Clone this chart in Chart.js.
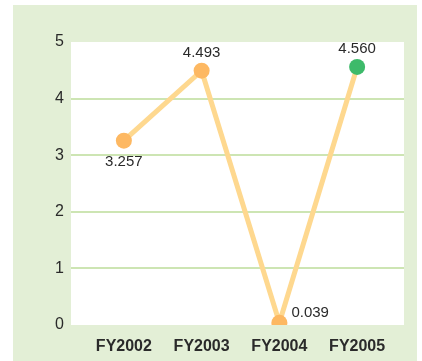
<!DOCTYPE html>
<html>
<head>
<meta charset="utf-8">
<script src="https://cdn.jsdelivr.net/npm/chart.js@4/dist/chart.umd.min.js"></script>
<style>
    html, body { margin: 0; padding: 0; background: #fff; }
    #wrap { width: 422px; height: 361px; }
</style>
</head>
<body>
<div id="wrap"><canvas id="chart" width="422" height="361"></canvas></div>
<script>
const categories = ['FY2002', 'FY2003', 'FY2004', 'FY2005'];
const values = [3.257, 4.493, 0.039, 4.560];
const yTicks = [0, 1, 2, 3, 4, 5];

window.onload = () => {
    const ctx = document.getElementById('chart').getContext('2d');

    // sfondo verde, area bianca e linee della griglia
    const sfondo = {
        id: 'sfondo',
        beforeDraw(chart) {
            const c = chart.ctx;
            const a = chart.chartArea;
            const y = chart.scales.y;
            const sx = a.left - 14;
            const ex = a.right + 8;
            c.save();
            c.fillStyle = '#e3efd6';
            c.fillRect(13, 5, 404, 356);
            c.fillStyle = '#ffffff';
            c.fillRect(sx, a.top, ex - sx, a.bottom - a.top);
            c.strokeStyle = '#cde5b3';
            c.lineWidth = 2;
            yTicks.filter(v => v > 0 && v < 5).forEach(v => {
                const py = Math.round(y.getPixelForValue(v));
                c.beginPath();
                c.moveTo(sx, py);
                c.lineTo(ex, py);
                c.stroke();
            });
            c.restore();
        }
    };

    // etichette dei valori
    const posizioni = ['below', 'above', 'right', 'above'];
    const etichette = {
        id: 'etichette',
        afterDatasetsDraw(chart) {
            const c = chart.ctx;
            const meta = chart.getDatasetMeta(0);
            c.save();
            c.font = '15px "Liberation Sans", Arial, sans-serif';
            c.fillStyle = '#2a2a2a';
            meta.data.forEach((p, i) => {
                const txt = values[i].toFixed(3);
                const pos = posizioni[i];
                if (pos === 'above') {
                    c.textAlign = 'center';
                    c.textBaseline = 'middle';
                    c.fillText(txt, p.x, p.y - 18);
                } else if (pos === 'below') {
                    c.textAlign = 'center';
                    c.textBaseline = 'middle';
                    c.fillText(txt, p.x, p.y + 21);
                } else {
                    c.textAlign = 'left';
                    c.textBaseline = 'middle';
                    c.fillText(txt, p.x + 12, p.y - 10);
                }
            });
            c.restore();
        }
    };

    new Chart(ctx, {
        type: 'line',
        data: {
            labels: categories,
            datasets: [{
                data: values,
                borderColor: '#fed88f',
                borderWidth: 5,
                tension: 0,
                pointRadius: 8,
                pointHoverRadius: 8,
                pointBorderWidth: 0,
                pointBackgroundColor: ['#fdb862', '#fdb862', '#fdb862', '#3dba6a']
            }]
        },
        options: {
            responsive: false,
            animation: false,
            layout: { padding: { top: 42, right: 26, left: 0, bottom: 0 } },
            plugins: {
                legend: { display: false },
                tooltip: { enabled: false }
            },
            scales: {
                x: {
                    offset: true,
                    grid: { display: false, drawTicks: false },
                    border: { display: false },
                    ticks: {
                        color: '#2a2a2a',
                        font: { family: '"Liberation Sans", Arial, sans-serif', size: 16, weight: 'bold' },
                        padding: 12,
                        maxRotation: 0
                    },
                    afterFit: scale => { scale.height = 36; }
                },
                y: {
                    min: 0,
                    max: 5,
                    afterBuildTicks: scale => { scale.ticks = yTicks.map(v => ({ value: v })); },
                    grid: { display: false, drawTicks: false },
                    border: { display: false },
                    ticks: {
                        color: '#2a2a2a',
                        font: { family: '"Liberation Sans", Arial, sans-serif', size: 16 },
                        padding: 21
                    },
                    afterFit: scale => { scale.width = 85; }
                }
            }
        },
        plugins: [sfondo, etichette]
    });
};
</script>
</body>
</html>
